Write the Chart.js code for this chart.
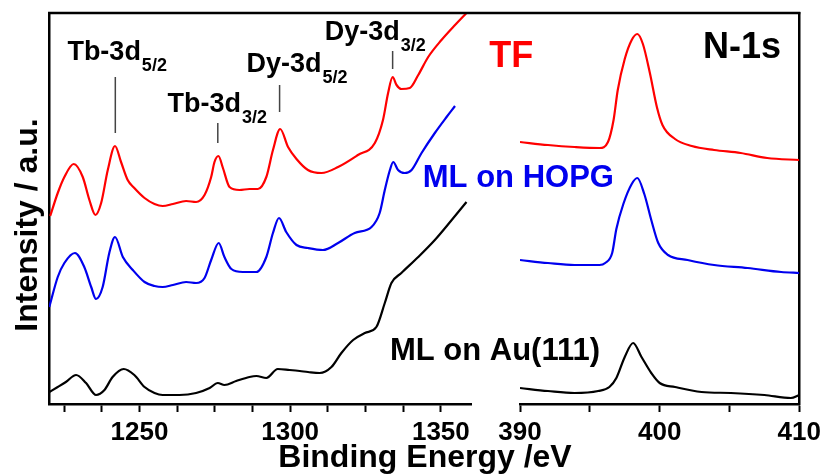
<!DOCTYPE html>
<html>
<head>
<meta charset="utf-8">
<script src="https://cdn.jsdelivr.net/npm/chart.js@4.4.1/dist/chart.umd.min.js"></script>
<style>
  html, body { margin: 0; background: #fff; }
  #wrap { position: relative; width: 826px; height: 475px; }
  #wrap canvas { position: absolute; left: 0; top: 0; }
</style>
</head>
<body>
<div id="wrap">
  <canvas id="rees" width="826" height="475"></canvas>
  <canvas id="n1s" width="826" height="475"></canvas>
</div>
<script>
// Tb/Dy 3d region (binding energy eV, intensity a.u.)
const tfRE_E = [1220.4,1222.9,1225.1,1228.2,1231.2,1233.4,1235.4,1237.3,1239.5,1241.9,1243.9,1246.1,1248.3,1251.7,1255.0,1257.7,1261.1,1265.5,1268.8,1271.6,1273.8,1274.9,1276.2,1277.7,1279.9,1283.2,1286.5,1289.3,1292.1,1294.3,1296.7,1299.3,1302.1,1305.9,1310.4,1315.9,1322.5,1328.1,1330.8,1332.5,1334.0,1335.3,1336.9,1339.7,1342.5,1345.8,1350.2,1354.7,1358.5]
const tfRE_I = [188,211,227,240,227,204,189,201,234,258,242,224,216,206,200,198,200,203,202,209,227,242,248,236,217,214,215,215,227,254,275,257,245,234,231,237,249,261,284,311,327,319,315,316,329,347,364,379,391]

const hopgRE_E = [1220.1,1222.9,1225.1,1228.6,1231.7,1234.0,1235.6,1237.8,1240.0,1241.9,1244.5,1247.8,1251.7,1255.0,1257.7,1261.1,1265.5,1268.8,1271.6,1273.8,1276.3,1278.2,1280.5,1284.3,1288.8,1292.1,1294.3,1296.3,1298.7,1302.1,1305.9,1310.9,1315.9,1321.4,1327.0,1329.7,1331.4,1333.1,1334.2,1335.8,1338.0,1340.3,1343.6,1348.0,1351.9,1354.7]
const hopgRE_I = [97,127,141,151,137,117,105,117,151,167,147,134,122,118,117,119,122,121,126,144,161,147,135,132,132,147,171,186,172,159,156,154,161,171,177,191,214,234,242,234,231,234,251,271,287,298]

const auRE_E = [1220.1,1222.9,1225.6,1229.0,1232.3,1235.6,1238.4,1241.1,1244.8,1248.3,1251.7,1255.0,1257.7,1263.3,1268.8,1273.3,1276.0,1278.2,1282.1,1286.5,1288.8,1292.1,1295.9,1299.8,1303.2,1305.9,1309.8,1313.7,1317.0,1320.9,1324.8,1328.6,1331.4,1333.6,1336.9,1342.5,1348.0,1353.6,1358.5]
const auRE_I = [12,17,22,29,21,9,14,27,35,29,17,11,9,9,11,16,21,19,23,27,28,26,35,34,33,32,31,37,51,64,71,77,101,121,131,147,164,184,202]

// N-1s region
const tfN_E = [390.0,392.0,393.9,395.7,396.3,396.7,397.0,397.5,398.0,398.4,398.8,399.3,399.8,400.2,401.1,402.3,403.9,405.8,407.7,410.0]
const tfN_I = [262,259,257,256,262,284,314,345,364,370,360,331,297,279,265,258,254,251,246,244]

const hopgN_E = [390.0,392.0,393.9,395.7,396.1,396.6,396.9,397.4,398.0,398.4,398.9,399.4,399.9,400.6,402.0,403.9,406.3,408.7,410.0]
const hopgN_I = [144,141,139,139,141,151,175,200,220,226,210,184,161,149,144,139,136,132,131]

const auN_E = [390.0,392.0,393.9,395.6,396.4,396.9,397.5,398.1,398.7,399.4,400.0,401.1,403.0,405.1,407.5,409.4,410.0]
const auN_I = [16,13,11,13,17,26,47,61,47,31,21,17,12,11,9,6,9]

// axis ticks
const reTicks = [1225,1237.5,1250,1262.5,1275,1287.5,1300,1312.5,1325,1337.5,1350]
const reLabels = [1250,1300,1350]
const nTicks = [390,395,400,405,410]
const nLabels = [390,400,410]

const RED = '#ff0000'
const BLUE = '#0000ee'
const FONT = "'Liberation Sans', Arial, sans-serif"

Chart.defaults.font.family = FONT
Chart.defaults.color = '#000'

const zip = (xs, ys) => xs.map((x, i) => ({x: x, y: ys[i]}))

function trace(label, xs, ys, color) {
    return {
        label: label,
        data: zip(xs, ys),
        borderColor: color,
        borderWidth: 2.2,
        pointRadius: 0,
        cubicInterpolationMode: 'monotone',
        fill: false
    }
}

function xAxis(min, max, ticks, labels) {
    return {
        type: 'linear', position: 'bottom', min: min, max: max,
        afterBuildTicks: s => { s.ticks = ticks.map(v => ({value: v})) },
        afterFit: s => { s.height = 71 },
        ticks: {
            autoSkip: false, maxRotation: 0, padding: 5,
            font: {size: 26, weight: 'bold'},
            callback: v => labels.includes(v) ? String(v) : ''
        },
        grid: {drawOnChartArea: false, drawTicks: true, tickLength: 8, tickWidth: 2, tickColor: '#000'},
        border: {width: 2.5, color: '#000'}
    }
}

function yAxis(position, width) {
    return {
        type: 'linear', position: position, min: 0, max: 391,
        afterFit: s => { s.width = width },
        ticks: {display: false},
        grid: {display: false},
        border: {width: 2.5, color: '#000'}
    }
}

// text + peak markers, placed in data coordinates of each panel
const panelText = {
    id: 'panelText',
    afterDraw(chart, args, opts) {
        const {ctx, scales: {x, y}} = chart
        ctx.save()
        ctx.textBaseline = 'alphabetic'
        ctx.textAlign = 'left'
        for (const p of (opts.peaks || [])) {
            const px = x.getPixelForValue(p.at)
            ctx.strokeStyle = '#444'
            ctx.lineWidth = 1.5
            ctx.beginPath()
            ctx.moveTo(px, y.getPixelForValue(p.from))
            ctx.lineTo(px, y.getPixelForValue(p.to))
            ctx.stroke()
            const tx = x.getPixelForValue(p.tx), ty = y.getPixelForValue(p.ty)
            ctx.fillStyle = '#000'
            ctx.font = 'bold 27px ' + FONT
            ctx.fillText(p.name, tx, ty)
            const w = ctx.measureText(p.name).width
            ctx.font = 'bold 18px ' + FONT
            ctx.fillText(p.sub, tx + w + 1, ty + 11)
        }
        for (const t of (opts.labels || [])) {
            ctx.fillStyle = t.color
            ctx.font = 'bold ' + t.size + 'px ' + FONT
            ctx.fillText(t.text, x.getPixelForValue(t.x), y.getPixelForValue(t.y))
        }
        ctx.restore()
    }
}

const rees = new Chart(document.getElementById('rees'), {
    type: 'line',
    data: {
        datasets: [
            trace('TF', tfRE_E, tfRE_I, RED),
            trace('ML on HOPG', hopgRE_E, hopgRE_I, BLUE),
            trace('ML on Au(111)', auRE_E, auRE_I, '#000')
        ]
    },
    options: {
        responsive: false,
        animation: false,
        devicePixelRatio: 1,
        layout: {padding: {left: 0, top: 13, right: 355, bottom: 0}},
        scales: {
            x: xAxis(1220, 1360, reTicks, reLabels),
            y: yAxis('left', 49)
        },
        plugins: {
            legend: {display: false},
            tooltip: {enabled: false},
            panelText: {
                peaks: [
                    {name: 'Tb-3d', sub: '5/2', at: 1242, from: 327, to: 271, tx: 1226.1, ty: 344},
                    {name: 'Tb-3d', sub: '3/2', at: 1276, from: 281, to: 261, tx: 1259.3, ty: 292},
                    {name: 'Dy-3d', sub: '5/2', at: 1296.5, from: 319, to: 292, tx: 1285.5, ty: 332},
                    {name: 'Dy-3d', sub: '3/2', at: 1334, from: 353, to: 335, tx: 1311.5, ty: 364}
                ],
                labels: [
                    {text: 'ML on HOPG', x: 1344.0, y: 217, color: BLUE, size: 31},
                    {text: 'ML on Au(111)', x: 1333.1, y: 44, color: '#000', size: 31}
                ]
            }
        }
    },
    plugins: [panelText]
})

// outer frame: top line over both panels, shared axis titles
const frameTop = {
    id: 'frameTop',
    afterDraw(chart) {
        const {ctx, chartArea} = chart
        ctx.save()
        ctx.strokeStyle = '#000'
        ctx.lineWidth = 2.5
        ctx.beginPath()
        ctx.moveTo(rees.chartArea.left - 1, chartArea.top)
        ctx.lineTo(chartArea.right + 1, chartArea.top)
        ctx.stroke()
        ctx.fillStyle = '#000'
        ctx.font = 'bold 32px ' + FONT
        ctx.textAlign = 'center'
        ctx.textBaseline = 'alphabetic'
        ctx.fillText('Binding Energy /eV', 425, 467)
        ctx.translate(37, 225)
        ctx.rotate(-Math.PI / 2)
        ctx.fillText('Intensity / a.u.', 0, 0)
        ctx.restore()
    }
}

new Chart(document.getElementById('n1s'), {
    type: 'line',
    data: {
        datasets: [
            trace('TF', tfN_E, tfN_I, RED),
            trace('ML on HOPG', hopgN_E, hopgN_I, BLUE),
            trace('ML on Au(111)', auN_E, auN_I, '#000')
        ]
    },
    options: {
        responsive: false,
        animation: false,
        devicePixelRatio: 1,
        layout: {padding: {left: 520, top: 13, right: 0, bottom: 0}},
        scales: {
            x: xAxis(390, 410, nTicks, nLabels),
            y: yAxis('right', 26)
        },
        plugins: {
            legend: {display: false},
            tooltip: {enabled: false},
            panelText: {
                labels: [
                    {text: 'TF', x: 387.8, y: 337, color: RED, size: 36},
                    {text: 'N-1s', x: 403.1, y: 346, color: '#000', size: 36}
                ]
            }
        }
    },
    plugins: [panelText, frameTop]
})
</script>
</body>
</html>
